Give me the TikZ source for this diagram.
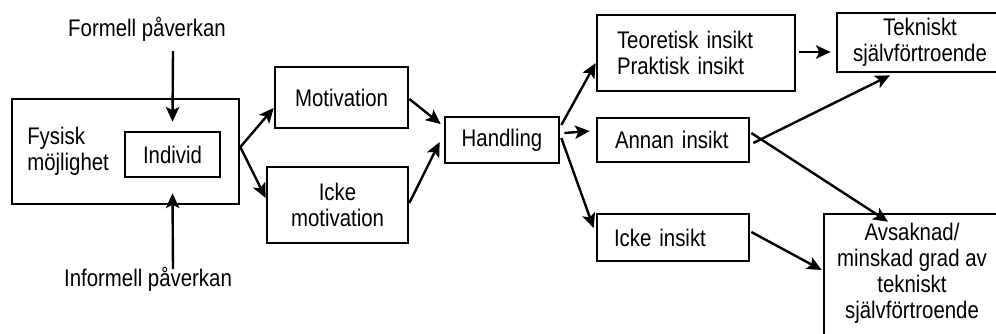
\documentclass[tikz,border=0pt]{standalone}
\usepackage{fontspec}
\setmainfont{Liberation Sans}[FakeStretch=0.85]
\usetikzlibrary{arrows.meta,calc}
\begin{document}
\begin{tikzpicture}[x=0.75pt,y=-0.75pt,
  box/.style={draw, line width=2pt, rectangle, inner sep=0pt, align=center, font=\fontsize{18}{19.5}\selectfont},
  txt/.style={inner sep=0pt, align=center, font=\fontsize{18}{19.5}\selectfont},
  arr/.style={line width=1.8pt, -{Stealth[length=11pt,width=10pt,inset=2.5pt]}}]
\useasboundingbox (0,0) rectangle (996,333);
\clip (0,0) rectangle (996,333);
% left part
\node[box, minimum width=170.25pt, minimum height=78.75pt] (fys) at (125.5,151.5) {};
\node[txt, anchor=west, align=left] (fystxt) at (27,151) {Fysisk\\möjlighet};
\node[box, minimum width=71.25pt, minimum height=33.75pt] (ind) at (172.5,154.5) {Individ};
\node[txt] (form) at (147,29) {Formell påverkan};
\node[txt] (inform) at (148,279) {Informell påverkan};
\coordinate (cf) at (173,51);
\coordinate (ci) at (173,269);
% middle
\node[box, minimum width=99.75pt, minimum height=45.75pt] (mot) at (341.5,97.5) {Motivation};
\node[box, minimum width=105.75pt, minimum height=57pt] (ickem) at (337.5,205) {Icke\\motivation};
\node[box, minimum width=85.5pt, minimum height=34.5pt] (hand) at (502,140) {Handling};
% insight boxes
\node[box, minimum width=148.5pt, minimum height=57pt, text width=118.5pt, align=left] (teo) at (696,53) {Teoretisk insikt\\Praktisk insikt};
\node[box, minimum width=114pt, minimum height=33pt, text width=87pt, align=left] (annan) at (673,140) {Annan insikt};
\node[box, minimum width=114pt, minimum height=35.25pt, text width=88.5pt, align=left] (ickei) at (673,237.5) {Icke insikt};
% outcome boxes
\node[box, minimum width=124.5pt, minimum height=44.25pt] (tek) at (920,42.5) {Tekniskt\\självförtroende};
\node[box, minimum width=132pt, minimum height=105pt] (avs) at (912,284) {};
\node[txt] (avstxt) at (912,273) {Avsaknad/\\minskad grad av\\tekniskt\\självförtroende};
% arrows
\draw[arr] (cf) -- ($(ind.north)+(0,-9)$);
\draw[arr] (ci) -- ($(ind.south)+(0,15)$);
\draw[arr] ($(fys.east)+(0,-4.5)$) -- ($(mot.west)+(0,10.5)$);
\draw[arr] ($(fys.east)+(0,-4.5)$) -- ($(ickem.west)+(0,-7)$);
\draw[arr] ($(mot.east)+(0,1.5)$) -- ($(hand.west)+(-3,-16)$);
\draw[arr] ($(ickem.east)+(0,-2)$) -- ($(hand.west)+(-4,2)$);
\draw[arr] ($(hand.east)+(1,-15)$) -- ($(teo.west)+(0,10)$);
\draw[arr] ($(hand.east)+(4,-7)$) -- ($(annan.west)+(-6,-9)$);
\draw[arr] ($(hand.east)+(1,-2)$) -- ($(ickei.west)+(-2,-9.5)$);
\draw[arr] ($(teo.east)+(3,-1)$) -- ($(tek.west)+(-5,9.5)$);
\draw[arr] ($(annan.east)+(3,3)$) -- ($(tek.south)+(-30,2)$);
\draw[arr] ($(annan.east)+(1,-7)$) -- ($(avs.north)+(-24,9)$);
\draw[arr] ($(ickei.east)+(1,-5.5)$) -- ($(avs.west)+(-1,-14)$);
\end{tikzpicture}
\end{document}
